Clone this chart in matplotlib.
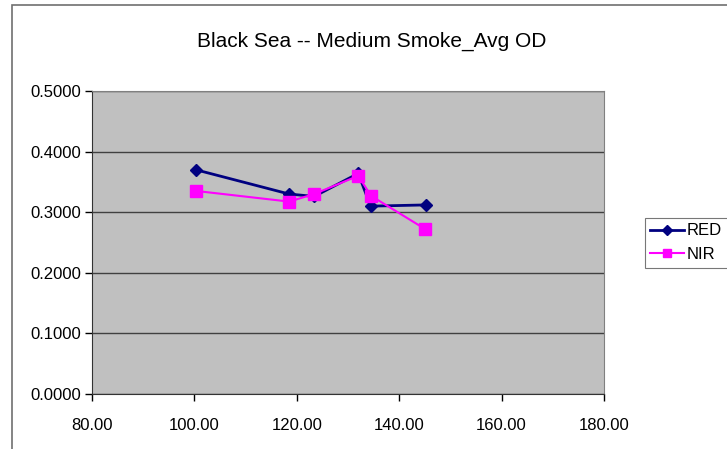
import matplotlib
matplotlib.use('Agg')
import matplotlib.pyplot as plt
from matplotlib.patches import Rectangle

plt.rcParams['font.family'] = ['Liberation Sans', 'DejaVu Sans']

# datos
x_red = [100.3, 118.5, 123.4, 132.0, 134.4, 145.2]
y_red = [0.370, 0.330, 0.326, 0.364, 0.310, 0.312]
x_nir = [100.4, 118.5, 123.4, 132.0, 134.5, 145.0]
y_nir = [0.335, 0.3175, 0.330, 0.360, 0.327, 0.2725]
x_ticks = [80, 100, 120, 140, 160, 180]
y_ticks = [0.0, 0.1, 0.2, 0.3, 0.4, 0.5]

fig = plt.figure(figsize=(7.27, 4.49), dpi=100)

# marco del area del grafico
fig.patches.append(Rectangle((12 / 727, -0.05), 1.1, 1 - 5 / 449 + 0.05,
                             transform=fig.transFigure, fill=False,
                             edgecolor='#707070', linewidth=1.2))

ax = fig.add_axes([92 / 727, 55 / 449, 512 / 727, 303 / 449])
ax.set_facecolor('#c0c0c0')

ax.plot(x_red, y_red, color='#000080', marker='D', markersize=6.5, linewidth=2, label='RED')
ax.plot(x_nir, y_nir, color='#ff00ff', marker='s', markersize=8, linewidth=1.5, label='NIR')

ax.set_xlim(80, 180)
ax.set_ylim(0, 0.5)
ax.set_xticks(x_ticks)
ax.set_yticks(y_ticks)
ax.set_xticklabels(['%.2f' % v for v in x_ticks], fontsize=12)
ax.set_yticklabels(['%.4f' % v for v in y_ticks], fontsize=12)
ax.tick_params(direction='out', length=5, width=1)
ax.tick_params(axis='x', pad=12)
ax.tick_params(axis='y', pad=3)
ax.yaxis.grid(True, color='#404040', linewidth=1)
ax.set_axisbelow(True)
for side in ['left', 'bottom']:
    ax.spines[side].set_color('#333333')
for side in ['top', 'right']:
    ax.spines[side].set_color('#808080')

fig.text(372 / 727, 1 - 41 / 449, 'Black Sea -- Medium Smoke_Avg OD',
         ha='center', va='center', fontsize=15)

leg = ax.legend(loc='center left', bbox_to_anchor=(1.063, 0.5), fontsize=12,
                frameon=True, fancybox=False, edgecolor='#555555',
                borderpad=0.35, handlelength=2.0, handletextpad=0.2, labelspacing=0.5,
                markerscale=0.8)
leg.get_frame().set_linewidth(0.8)

fig.savefig('out.png', dpi=100)
